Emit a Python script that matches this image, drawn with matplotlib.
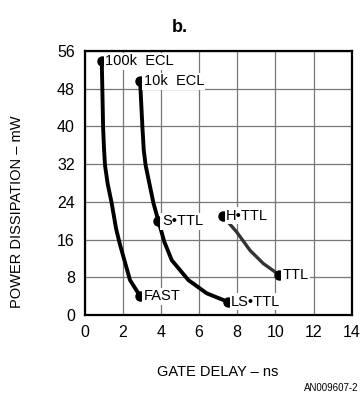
import matplotlib
matplotlib.use("Agg")
import matplotlib.pyplot as plt

plt.rcParams['font.family'] = ['Liberation Sans', 'DejaVu Sans']

# curves (gate delay ns, power mW)
ecl100k_x = [0.90, 0.93, 0.97, 1.02, 1.07, 1.21, 1.42, 1.65, 1.85, 2.38, 2.91]
ecl100k_y = [53.8, 47.9, 39.8, 35.0, 31.7, 27.8, 23.7, 18.3, 15.0, 7.4, 4.0]

ecl10k_x = [2.91, 3.03, 3.10, 3.20, 3.40, 3.61, 3.87, 4.18, 4.57, 5.44, 6.40, 7.50]
ecl10k_y = [49.5, 39.8, 35.0, 31.7, 27.8, 23.7, 19.9, 15.5, 11.6, 7.4, 4.6, 2.8]

httl_x = [7.24, 7.97, 8.67, 9.37, 10.20]
httl_y = [21.0, 17.6, 13.7, 10.9, 8.5]

# labelled end points
points = {
    '100k  ECL': (0.90, 53.8),
    '10k  ECL': (2.91, 49.5),
    'S•TTL': (3.87, 19.9),
    'FAST': (2.91, 4.0),
    'LS•TTL': (7.50, 2.8),
    'H•TTL': (7.24, 21.0),
    'TTL': (10.20, 8.5),
}

x_ticks = [0, 2, 4, 6, 8, 10, 12, 14]
y_ticks = [0, 8, 16, 24, 32, 40, 48, 56]

fig = plt.figure(figsize=(3.6, 3.94), dpi=100)
ax = fig.add_axes([0.235, 0.2005, 0.742, 0.6705])

line_kw = dict(zorder=3, solid_joinstyle='round', solid_capstyle='round')
ax.plot(ecl100k_x, ecl100k_y, color='black', linewidth=2.8, **line_kw)
ax.plot(ecl10k_x, ecl10k_y, color='black', linewidth=2.8, **line_kw)
ax.plot(httl_x, httl_y, color='#333333', linewidth=2.4, **line_kw)

for name, (px, py) in points.items():
    ax.plot(px, py, 'o', color='black', markersize=6.5, zorder=4)
    ax.annotate(name, (px, py), xytext=(2.5, 0), textcoords='offset points',
                ha='left', va='center', fontsize=10.5, zorder=5,
                bbox=dict(boxstyle='square,pad=0.1', fc='white', ec='none'))

ax.set_xlim(0, 14)
ax.set_ylim(0, 56)
ax.set_xticks(x_ticks)
ax.set_yticks(y_ticks)
ax.tick_params(length=0, labelsize=11.5, pad=7)
ax.grid(True, color='#777777', linewidth=0.9)
ax.set_axisbelow(True)
for s in ax.spines.values():
    s.set_linewidth(1.6)

fig.text(0.5, 0.931, 'b.', ha='center', va='center', fontsize=13, fontweight='bold')
fig.text(0.047, 0.462, 'POWER DISSIPATION – mW', rotation=90, ha='center', va='center', fontsize=10.5)
fig.text(0.605, 0.056, 'GATE DELAY – ns', ha='center', va='center', fontsize=10.5)
fig.text(0.995, 0.015, 'AN009607-2', ha='right', va='center', fontsize=7)

fig.savefig('out.png', dpi=100)
